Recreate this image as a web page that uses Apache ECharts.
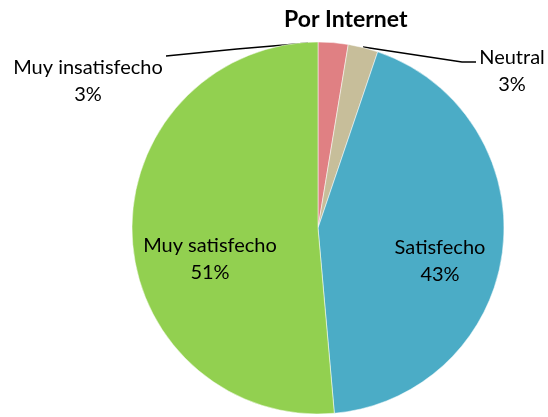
<!DOCTYPE html>
<html>
<head>
<meta charset="utf-8">
<script src="https://cdn.jsdelivr.net/npm/echarts@6/dist/echarts.min.js"></script>
<style>
  html, body { margin: 0; padding: 0; background: #fff; }
  #chart { width: 548px; height: 417px; }
</style>
</head>
<body>
<div id="chart"></div>
<script>
// datos del grafico
var titleText = "Por Internet";
var categories = ["Muy insatisfecho", "Neutral", "Satisfecho", "Muy satisfecho"];
var values = [2.6, 2.6, 43.4, 51.4];
var colors = ["#E08083", "#C7BE9A", "#4BACC6", "#92D050"];

// donde van las etiquetas y sus lineas guia (solo estilo)
var labelPos = [
  { x: 88, y: 81, line: [[166, 56], [237, 49], [308, 43]] },
  { x: 512, y: 71, line: [[476, 62], [462, 62], [363, 47]] },
  { x: 440, y: 261 },
  { x: 210, y: 259 }
];

var chart = echarts.init(document.getElementById("chart"));

var pieData = categories.map(function (name, i) {
  return {
    name: name,
    value: values[i],
    itemStyle: { color: colors[i] },
    label: { position: i < 2 ? "outside" : "inside" },
    labelLine: { show: i < 2 }
  };
});

chart.setOption({
  animation: false,
  title: {
    text: titleText,
    left: 279,
    top: 3,
    textStyle: {
      fontFamily: "Lato",
      fontWeight: "bold",
      fontSize: 23,
      color: "#000"
    }
  },
  series: [
    {
      type: "pie",
      center: [318, 228],
      radius: 186,
      startAngle: 90,
      clockwise: true,
      itemStyle: { borderColor: "#fff", borderWidth: 0.5 },
      label: {
        show: true,
        color: "#000",
        fontFamily: "Lato",
        fontSize: 20,
        lineHeight: 27,
        align: "center",
        overflow: "none",
        formatter: function (p) {
          return p.name + "\n" + Math.round(p.value) + "%";
        }
      },
      labelLine: {
        lineStyle: { color: "#000", width: 1.5 }
      },
      labelLayout: function (params) {
        var pos = labelPos[params.dataIndex];
        var out = {
          x: pos.x,
          y: pos.y,
          align: "center",
          verticalAlign: "middle",
          width: 200
        };
        if (pos.line) out.labelLinePoints = pos.line;
        return out;
      },
      data: pieData
    }
  ]
});
</script>
</body>
</html>
